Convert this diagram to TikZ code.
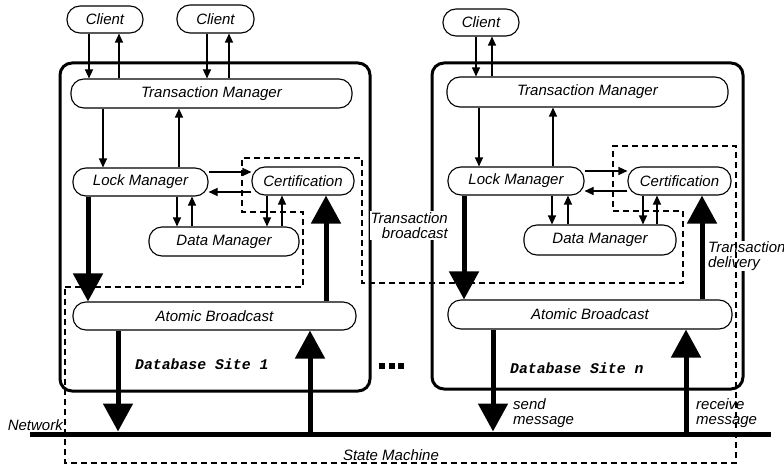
\documentclass[tikz,border=0pt]{standalone}
\usepackage{fontspec}
\setmainfont{Liberation Sans}
\newfontfamily\codefont{Liberation Mono}
\usetikzlibrary{arrows.meta}

\begin{document}
\begin{tikzpicture}[x=1pt,y=-1pt,
  comp/.style={draw, line width=1.1pt, rounded corners=13pt, inner sep=0pt,
    font=\fontsize{15}{15}\selectfont\itshape},
  sitebox/.style={draw, line width=3pt, rounded corners=12pt, inner sep=0pt},
  sitename/.style={font=\fontsize{14.8}{15}\selectfont\codefont\bfseries\itshape, anchor=west, inner sep=0pt},
  lbl/.style={font=\fontsize{15}{15}\selectfont\itshape, inner sep=1pt},
  thinarrow/.style={line width=1.1pt, -{Triangle[length=9pt,width=8pt]}},
  bigarrow/.style={line width=5pt, -{Triangle[length=28pt,width=29pt]}},
  statemachine/.style={line width=1.1pt, dash pattern=on 6pt off 4pt},
]
\useasboundingbox (0,0) rectangle (784,468);

% database sites
\node[sitebox, minimum width=310, minimum height=328] (site1) at (215,227) {};
\node[sitebox, minimum width=311, minimum height=326] (siten) at (587.5,226) {};

% labels with white background (drawn over the site borders)
\node[lbl, fill=white, align=right, anchor=east] (tbcast) at (449,225.5) {Transaction\\broadcast};
\node[lbl, fill=white, align=left, anchor=west] (tdeliv) at (707,256) {Transaction\\delivery};

% state machine boundary
\draw[statemachine] (65,287) -- (303,287) -- (303,212) -- (242,212) -- (242,158)
  -- (362,158) -- (362,283) -- (683,283) -- (683,211) -- (613,211) -- (613,146)
  -- (736,146) -- (736,463) -- (65,463) -- cycle;

% site 1 components
\node[comp, minimum width=76, minimum height=27] (c1) at (105,19.5) {Client};
\node[comp, minimum width=77, minimum height=28] (c2) at (215.5,19) {Client};
\node[comp, minimum width=281, minimum height=29] (tm1) at (211.5,93.5) {Transaction Manager};
\node[comp, minimum width=135, minimum height=28] (lock1) at (140.5,182) {Lock Manager};
\node[comp, minimum width=102, minimum height=28] (cert1) at (303,181) {Certification};
\node[comp, minimum width=150, minimum height=29] (data1) at (224,241.5) {Data Manager};
\node[comp, minimum width=283, minimum height=28] (ab1) at (214.5,316) {Atomic Broadcast};
\node[sitename] (name1) at (135,364) {Database Site 1};

% site n components
\node[comp, minimum width=76, minimum height=27] (cn) at (481,22.5) {Client};
\node[comp, minimum width=281, minimum height=30] (tmn) at (587.5,92) {Transaction Manager};
\node[comp, minimum width=136, minimum height=28] (lockn) at (516,181) {Lock Manager};
\node[comp, minimum width=103, minimum height=28] (certn) at (679.5,181) {Certification};
\node[comp, minimum width=152, minimum height=30] (datan) at (600,240) {Data Manager};
\node[comp, minimum width=284, minimum height=29] (abn) at (590,314.5) {Atomic Broadcast};
\node[sitename] (namen) at (510,368) {Database Site n};

% network
\coordinate (netL) at (30,434);
\coordinate (netR) at (771,434);
\draw[line width=5pt] (netL) -- (netR);

% clients <-> transaction managers
\draw[thinarrow] (c1.south -| 89,0) -- (tm1.north -| 89,0);
\draw[thinarrow] (tm1.north -| 119,0) -- (c1.south -| 119,0);
\draw[thinarrow] (c2.south -| 207,0) -- (tm1.north -| 207,0);
\draw[thinarrow] (tm1.north -| 229,0) -- (c2.south -| 229,0);
\draw[thinarrow] (cn.south -| 476,0) -- (tmn.north -| 476,0);
\draw[thinarrow] (tmn.north -| 492,0) -- (cn.south -| 492,0);

% transaction manager <-> lock manager
\draw[thinarrow] (tm1.south -| 103,0) -- (lock1.north -| 103,0);
\draw[thinarrow] (lock1.north -| 179,0) -- (tm1.south -| 179,0);
\draw[thinarrow] (tmn.south -| 479,0) -- (lockn.north -| 479,0);
\draw[thinarrow] (lockn.north -| 553,0) -- (tmn.south -| 553,0);

% lock manager <-> certification
\draw[thinarrow] (lock1.east |- 0,172) -- (cert1.west |- 0,172);
\draw[thinarrow] (cert1.west |- 0,192) -- (lock1.east |- 0,192);
\draw[thinarrow] (lockn.east |- 0,171) -- (certn.west |- 0,171);
\draw[thinarrow] (certn.west |- 0,191) -- (lockn.east |- 0,191);

% lock manager / certification <-> data manager
\draw[thinarrow] (lock1.south -| 177,0) -- (data1.north -| 177,0);
\draw[thinarrow] (data1.north -| 192,0) -- (lock1.south -| 192,0);
\draw[thinarrow] (cert1.south -| 267,0) -- (data1.north -| 267,0);
\draw[thinarrow] (data1.north -| 282,0) -- (cert1.south -| 282,0);
\draw[thinarrow] (lockn.south -| 552,0) -- (datan.north -| 552,0);
\draw[thinarrow] (datan.north -| 568,0) -- (lockn.south -| 568,0);
\draw[thinarrow] (certn.south -| 643,0) -- (datan.north -| 643,0);
\draw[thinarrow] (datan.north -| 657,0) -- (certn.south -| 657,0);

% broadcast and delivery
\draw[bigarrow] (lock1.south -| 88,0) -- (ab1.north -| 88,0);
\draw[bigarrow] (ab1.north -| 326,0) -- (cert1.south -| 326,0);
\draw[bigarrow] (lockn.south -| 464,0) -- (abn.north -| 464,0);
\draw[bigarrow] (abn.north -| 702,0) -- (certn.south -| 702,0);

% atomic broadcast <-> network
\draw[bigarrow, shorten >=2.5pt] (ab1.south -| 118,0) -- (netL -| 118,0);
\draw[bigarrow] (netL -| 310,0) -- (ab1.south -| 310,0);
\draw[bigarrow, shorten >=2.5pt] (abn.south -| 493,0) -- (netL -| 493,0);
\draw[bigarrow] (netL -| 686,0) -- (abn.south -| 686,0);

% remaining labels
\node[lbl, anchor=east] (netlbl) at (64,425) {Network};
\node[lbl] (smlbl) at (391,455) {State Machine};
\node[lbl, align=left, anchor=west] (sendlbl) at (512,413) {send\\message};
\node[lbl, align=left, anchor=west] (recvlbl) at (695,413) {receive\\message};

% ellipsis between the sites
\foreach \dx in {379,389,398}
  \fill (\dx,363) rectangle ++(6,6);
\end{tikzpicture}
\end{document}
